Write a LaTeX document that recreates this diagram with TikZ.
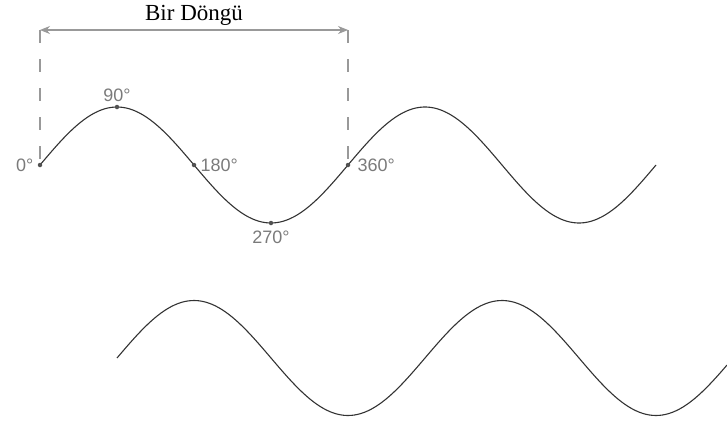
\documentclass[tikz,border=0pt]{standalone}
\usepackage{fontspec}
\setmainfont{Liberation Serif}
\setsansfont{Liberation Sans}
\usetikzlibrary{positioning,arrows.meta}
\definecolor{guide}{HTML}{999999}
\definecolor{degtext}{HTML}{7A7A7A}
\definecolor{curve}{HTML}{333333}
\tikzset{
  wave/.style={curve, line width=1.1pt},
  dot/.style={circle, fill=curve!85, inner sep=0pt, minimum size=4.5pt},
  deg/.style={text=degtext, font=\sffamily\fontsize{18}{20}\selectfont, inner sep=1pt},
  guideline/.style={guide, line width=1.1pt, dash pattern=on 13pt off 16pt},
}
\begin{document}
\begin{tikzpicture}[x=1pt, y=-1pt]
    \useasboundingbox (0,0) rectangle (727,423);

    % Upper sine, two full cycles
    \draw[wave] plot[domain=0:720, samples=181, smooth] ({40+\x/360*308},{165-58*sin(\x)});

    % Marked angles on the first cycle
    \foreach \a in {0,90,180,270,360} {
        \node[dot] (p\a) at ({40+\a/360*308},{165-58*sin(\a)}) {};
    }
    \node[deg, left=3pt of p0] (l0) {0°};
    \node[deg, above=2pt of p90] (l90) {90°};
    \node[deg, right=3pt of p180] (l180) {180°};
    \node[deg, below=4pt of p270] (l270) {270°};
    \node[deg, right=6pt of p360] (l360) {360°};

    % One cycle marker
    \coordinate (t0) at (40,30);
    \coordinate (t360) at (348,30);
    \draw[guideline] (t0) -- (p0);
    \draw[guideline] (t360) -- (p360);
    \draw[guide, line width=1.1pt, {Stealth[length=10pt,width=8pt]}-{Stealth[length=10pt,width=8pt]}] (t0) -- (t360)
        node[midway, above=1pt, text=black, font=\fontsize{23}{26}\selectfont] (cycle) {Bir Döngü};

    % Lower sine, shifted a quarter cycle
    \draw[wave] plot[domain=0:713, samples=181, smooth] ({117+\x/360*308},{358-57.5*sin(\x)});
\end{tikzpicture}
\end{document}
